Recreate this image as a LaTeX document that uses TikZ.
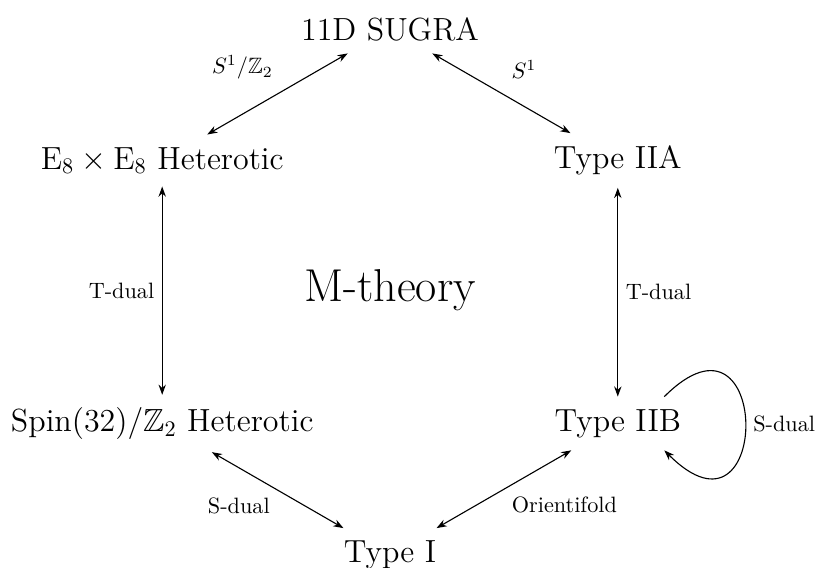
\documentclass[tikz,border=0pt]{standalone}
\usepackage{amssymb}
\usetikzlibrary{arrows.meta}
\begin{document}
\begin{tikzpicture}[x=0.45pt,y=0.45pt,
  theory/.style={font=\Large, inner sep=5.5pt},
  duality/.style={{Stealth[length=4.6pt,width=3.3pt]}-{Stealth[length=4.6pt,width=3.3pt]}, line width=0.5pt},
  selfdual/.style={-{Stealth[length=4.6pt,width=3.3pt]}, line width=0.5pt},
  lbl/.style={font=\normalsize}]
\useasboundingbox (0,0) rectangle (816,568);
\node[font=\huge] (M) at (390,278) {M-theory};
\node[theory] (sugra) at (390,539) {11D SUGRA};
\node[theory] (IIA) at (617.8,407.5) {Type IIA};
\node[theory] (IIB) at (617.8,144.5) {Type IIB};
\node[theory] (I) at (390,13) {Type I};
\node[theory] (SO) at (162.2,144.5) {Spin$(32)/\mathbb{Z}_2$ Heterotic};
\node[theory] (E8) at (162.2,407.5) {E$_8\times{}$E$_8$ Heterotic};
\draw[duality] (sugra) -- node[lbl, above left, xshift=1.5pt, yshift=3pt] {$S^1/\mathbb{Z}_2$} (E8);
\draw[duality] (sugra) -- node[lbl, above right, xshift=1pt, yshift=3pt] {$S^1$} (IIA);
\draw[duality] (E8) -- node[lbl, left] {T-dual} (SO);
\draw[duality] (IIA) -- node[lbl, right] {T-dual} (IIB);
\draw[duality] (SO) -- node[lbl, below left] {S-dual} (I);
\draw[duality] (IIB) -- node[lbl, below right] {Orientifold} (I);
\draw[selfdual] (IIB.30) .. controls +(108,108) and +(108,-108) .. node[lbl, right] {S-dual} (IIB.-30);
\end{tikzpicture}
\end{document}
